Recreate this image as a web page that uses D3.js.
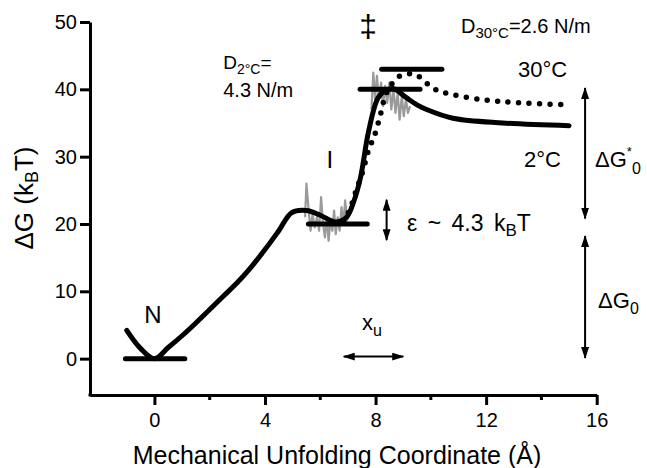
<!DOCTYPE html>
<html><head><meta charset="utf-8">
<script src="https://cdn.jsdelivr.net/npm/d3@7"></script>
<style>
body{margin:0;background:#fff}
svg{display:block}
text{font-family:"Liberation Sans",Arial,Helvetica,sans-serif;fill:#000}
</style>
</head><body>
<svg id="c" width="647" height="468"></svg>
<script>
// ---- data ----
const xTicks = [0, 4, 8, 12, 16];
const xMinorTicks = [2, 6, 10, 14];
const yTicks = [0, 10, 20, 30, 40, 50];

// 2 °C energy landscape (solid)
const solidX = [-1.0, -0.52, 0.0, 0.5, 1.0, 1.5, 2.0, 2.5, 3.0, 3.5, 4.0, 4.5, 4.97, 5.5, 6.0, 6.55, 6.95, 7.2, 7.45, 7.75, 8.1, 8.4, 8.65, 9.1, 9.5, 9.85, 10.8, 12.6, 15.0];
const solidY = [4.2, 1.6, 0.0, 1.65, 3.4, 5.3, 7.3, 9.3, 11.3, 13.6, 16.2, 19.0, 21.7, 22.0, 21.3, 20.3, 21.0, 23.2, 26.8, 33.8, 38.8, 39.9, 40.1, 38.8, 37.7, 37.0, 35.7, 35.0, 34.6];

// 30 °C energy landscape (dotted)
const dotX = [6.85, 7.1, 7.3, 7.55, 7.75, 7.95, 8.15, 8.35, 8.55, 8.85, 9.2, 9.5, 9.85, 10.2, 10.8, 12.0, 13.2, 15.0];
const dotY = [20.3, 22.5, 25.0, 28.0, 31.0, 33.0, 35.8, 39.0, 40.6, 41.9, 42.3, 42.1, 40.9, 39.9, 39.2, 38.4, 38.0, 37.7];

// grey raw traces near the intermediate and the transition state
const greyIX = [5.45, 5.5, 5.58, 5.65, 5.72, 5.8, 5.88, 5.96, 6.03, 6.1, 6.17, 6.24, 6.3, 6.37, 6.44, 6.5, 6.56, 6.63, 6.7, 6.77, 6.84, 6.9, 6.97, 7.05];
const greyIY = [21, 26, 22, 19, 21.5, 19.5, 21, 19, 24, 20, 18, 21, 17.5, 20.5, 19, 22, 18.5, 21, 19, 22.5, 20, 23.5, 20.5, 22];
const greyTX = [7.85, 7.92, 7.98, 8.05, 8.12, 8.2, 8.27, 8.35, 8.42, 8.5, 8.57, 8.65, 8.72, 8.8, 8.87, 8.95, 9.02, 9.1, 9.17, 9.25];
const greyTY = [37, 42.5, 38.5, 42, 38.5, 41, 37.5, 40.5, 38, 41, 37, 40, 36.5, 39.5, 35.5, 39, 36, 38.5, 36.5, 37.5];

// level bars
const barsStart = [-1.05, 5.57, 7.44, 8.22];
const barsEnd = [1.1, 7.7, 9.61, 10.4];
const barsY = [0, 20, 40, 43];

// double arrows
const arrowX1 = [15.58, 15.58, 8.4, 6.85];
const arrowY1 = [40.2, 18.2, 23.6, 0.3];
const arrowX2 = [15.58, 15.58, 8.4, 9.0];
const arrowY2 = [20.8, 0.1, 17.6, 0.3];

// ---- chart ----
const svg = d3.select("#c");
const x = d3.scaleLinear().domain([-2.33, 16]).range([90, 596.7]);
const y = d3.scaleLinear().domain([-5.4, 50]).range([395, 22]);
const FONT = '"Liberation Sans",Arial,sans-serif';

// axes
const gx = svg.append("g").attr("transform", `translate(0,${y(-5.4)})`)
  .call(d3.axisBottom(x).tickValues(xTicks).tickSize(10).tickSizeOuter(0).tickPadding(8).tickFormat(d3.format("d")));
gx.selectAll(".tick text").attr("font-size", 20).attr("font-family", FONT).attr("fill", "#000");
gx.select(".domain").attr("stroke-width", 3).attr("stroke", "#000");
gx.selectAll(".tick line").attr("stroke-width", 3).attr("stroke", "#000");
svg.append("g").selectAll("line").data(xMinorTicks).join("line")
  .attr("x1", d => x(d)).attr("x2", d => x(d))
  .attr("y1", y(-5.4)).attr("y2", y(-5.4) + 5)
  .attr("stroke", "#000").attr("stroke-width", 3);

const gy = svg.append("g").attr("transform", `translate(${x(-2.33)},0)`)
  .call(d3.axisLeft(y).tickValues(yTicks).tickSize(10).tickSizeOuter(0).tickPadding(3).tickFormat(d3.format("d")));
gy.selectAll(".tick text").attr("font-size", 20).attr("font-family", FONT).attr("fill", "#000");
gy.select(".domain").attr("stroke-width", 3).attr("stroke", "#000");
gy.selectAll(".tick line").attr("stroke-width", 3).attr("stroke", "#000");
svg.append("rect").attr("x", x(-2.33) - 1.5).attr("y", y(-5.4) - 1.5).attr("width", 3).attr("height", 3).attr("fill", "#000");

// axis titles
svg.append("text").attr("x", 337).attr("y", 464).attr("text-anchor", "middle")
  .attr("font-size", 25).text("Mechanical Unfolding Coordinate (Å)");
const yt = svg.append("text").attr("transform", "translate(33,198) rotate(-90)")
  .attr("text-anchor", "middle").attr("font-size", 26);
yt.append("tspan").text("ΔG (k");
yt.append("tspan").attr("font-size", 18).attr("dy", 5).text("B");
yt.append("tspan").attr("dy", -5).text("T)");

// grey traces
const lineGen = d3.line().x(d => x(d[0])).y(d => y(d[1]));
[d3.zip(greyIX, greyIY), d3.zip(greyTX, greyTY)].forEach(data => {
  svg.append("path").datum(data).attr("d", lineGen)
    .attr("fill", "none").attr("stroke", "#9a9a9a").attr("stroke-width", 2.2).attr("stroke-linejoin", "round");
});

// level bars
svg.append("g").selectAll("line").data(d3.range(barsY.length)).join("line")
  .attr("x1", i => x(barsStart[i])).attr("x2", i => x(barsEnd[i]))
  .attr("y1", i => y(barsY[i])).attr("y2", i => y(barsY[i]))
  .attr("stroke", "#000").attr("stroke-width", 5).attr("stroke-linecap", "round");

// curves
const smooth = d3.line().x(d => x(d[0])).y(d => y(d[1])).curve(d3.curveCatmullRom.alpha(0.5));
svg.append("path").datum(d3.zip(solidX, solidY)).attr("d", smooth)
  .attr("fill", "none").attr("stroke", "#000").attr("stroke-width", 5).attr("stroke-linejoin", "round").attr("stroke-linecap", "round");
svg.append("path").datum(d3.zip(dotX, dotY)).attr("d", smooth)
  .attr("fill", "none").attr("stroke", "#000").attr("stroke-width", 5.5)
  .attr("stroke-dasharray", "0 10.5").attr("stroke-linecap", "round");

// arrows
const defs = svg.append("defs");
defs.append("marker").attr("id", "ah").attr("viewBox", "0 0 12 8").attr("refX", 11).attr("refY", 4)
  .attr("markerWidth", 12).attr("markerHeight", 8).attr("markerUnits", "userSpaceOnUse")
  .attr("orient", "auto-start-reverse")
  .append("path").attr("d", "M0,0 L12,4 L0,8 Z").attr("fill", "#000");
svg.append("g").selectAll("line").data(d3.range(arrowX1.length)).join("line")
  .attr("x1", i => x(arrowX1[i])).attr("y1", i => y(arrowY1[i]))
  .attr("x2", i => x(arrowX2[i])).attr("y2", i => y(arrowY2[i]))
  .attr("stroke", "#000").attr("stroke-width", 2)
  .attr("marker-start", "url(#ah)").attr("marker-end", "url(#ah)");

// annotations
function label(X, Y, size, parts, anchor, extra) {
  const t = svg.append("text").attr("x", x(X)).attr("y", y(Y)).attr("font-size", size)
    .attr("text-anchor", anchor || "start");
  if (extra) Object.entries(extra).forEach(([k, v]) => t.attr(k, v));
  let cur = 0;
  parts.forEach(p => {
    const s = t.append("tspan").text(p.t);
    if (p.size) s.attr("font-size", p.size);
    const off = p.dy || 0;
    if (off !== cur) { s.attr("dy", off - cur); cur = off; }
  });
  return t;
}
label(-0.05, 5.3, 24, [{t: "N"}], "middle");
label(6.35, 28.3, 24, [{t: "I"}], "middle");
label(7.73, 47.8, 32, [{t: "‡"}], "middle");
label(2.49, 43.0, 19, [{t: "D"}, {t: "2°C", size: 14, dy: 5}, {t: "=", dy: 0}]);
label(2.49, 38.9, 20, [{t: "4.3 N/m"}]);
label(11.09, 48.35, 20, [{t: "D"}, {t: "30°C", size: 15, dy: 5}, {t: "=2.6 N/m", dy: 0}]);
label(13.15, 41.9, 22, [{t: "30°C"}]);
label(13.37, 28.5, 22, [{t: "2°C"}]);
label(15.94, 28.5, 22, [{t: "ΔG"}, {t: "*", size: 13, dy: -11}, {t: "0", size: 16, dy: 7}]);
label(16.05, 7.5, 22, [{t: "ΔG"}, {t: "0", size: 16, dy: 6}]);
label(7.51, 4.3, 22, [{t: "x"}, {t: "u", size: 16, dy: 6}]);
label(9.14, 18.9, 23, [{t: "ε ~ 4.3 k"}, {t: "B", size: 17, dy: 5}, {t: "T", dy: 0}], "start", {"word-spacing": 4});
</script>
</body></html>
